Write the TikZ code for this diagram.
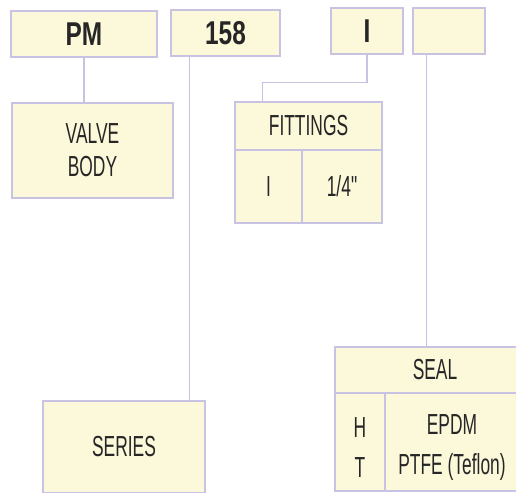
\documentclass[tikz,border=0pt]{standalone}
\usepackage{fontspec}
\setmainfont[FakeStretch=0.6]{Liberation Sans}
\newfontfamily\headfont[FakeStretch=0.74]{Liberation Sans Bold}
\newfontfamily\rawfont[FakeStretch=0.6,Ligatures=ResetAll]{Liberation Sans}
\definecolor{boxline}{HTML}{C8C3E2}
\definecolor{boxfill}{HTML}{FCF8DA}
\definecolor{ink}{HTML}{262626}
\tikzset{
  celltext/.style={inner sep=0pt, text=ink, align=center, font=\fontsize{29}{33}\selectfont},
  cell/.style={celltext, draw=boxline, fill=boxfill, line width=1.2pt},
  headcell/.style={cell, font=\headfont\fontsize{33}{34}\selectfont},
  link/.style={draw=boxline, line width=1.2pt},
}

\begin{document}
\begin{tikzpicture}[x=1pt,y=-1pt]
  \useasboundingbox (0,0) rectangle (516,492);
  \clip (0,0) rectangle (516,492);
  % code boxes
  \node[headcell, minimum width=146, minimum height=46] (pm) at (84,34) {PM};
  \node[headcell, minimum width=109, minimum height=46] (num) at (225.5,33) {158};
  \node[headcell, minimum width=72, minimum height=46] (fitcode) at (367,31) {I};
  \node[headcell, minimum width=72, minimum height=46] (sealcode) at (449,31) {};
  % tables
  \node[cell, minimum width=161, minimum height=95] (valve) at (92.5,150.5) {VALVE\\BODY};
  \node[cell, minimum width=147, minimum height=48] (fittitle) at (308.5,126) {FITTINGS};
  \node[cell, minimum width=67, minimum height=73] (fitkey) at (268.5,186.5) {I};
  \node[cell, minimum width=80, minimum height=73] (fitsize) at (342,186.5) {1/4{\rawfont"}};
  \node[cell, minimum width=162, minimum height=92] (series) at (124,447) {SERIES};
  \node[cell, minimum width=200, minimum height=46] (sealtitle) at (435,370) {SEAL};
  \node[cell, minimum width=50, minimum height=98] (sealkey) at (360,442) {};
  \node[cell, minimum width=135, minimum height=98] (sealmat) at (452.5,442) {};
  \node[celltext] (sealkeys) at (360,448) {H\\[7pt]T};
  \node[celltext] (sealmats) at (452,448) {EPDM\\[7pt]PTFE (Teflon)};
  % connectors
  \coordinate (numfoot) at ([xshift=19]num.south west);
  \coordinate (sealfoot) at ([xshift=14]sealcode.south west);
  \draw[link] (pm.south) -- (pm.south |- valve.north);
  \draw[link] (numfoot) -- (numfoot |- series.north);
  \draw[link] (fitcode.south) -- ++(0,28) -| ([xshift=28]fittitle.north west);
  \draw[link] (sealfoot) -- (sealfoot |- sealtitle.north);
\end{tikzpicture}
\end{document}
